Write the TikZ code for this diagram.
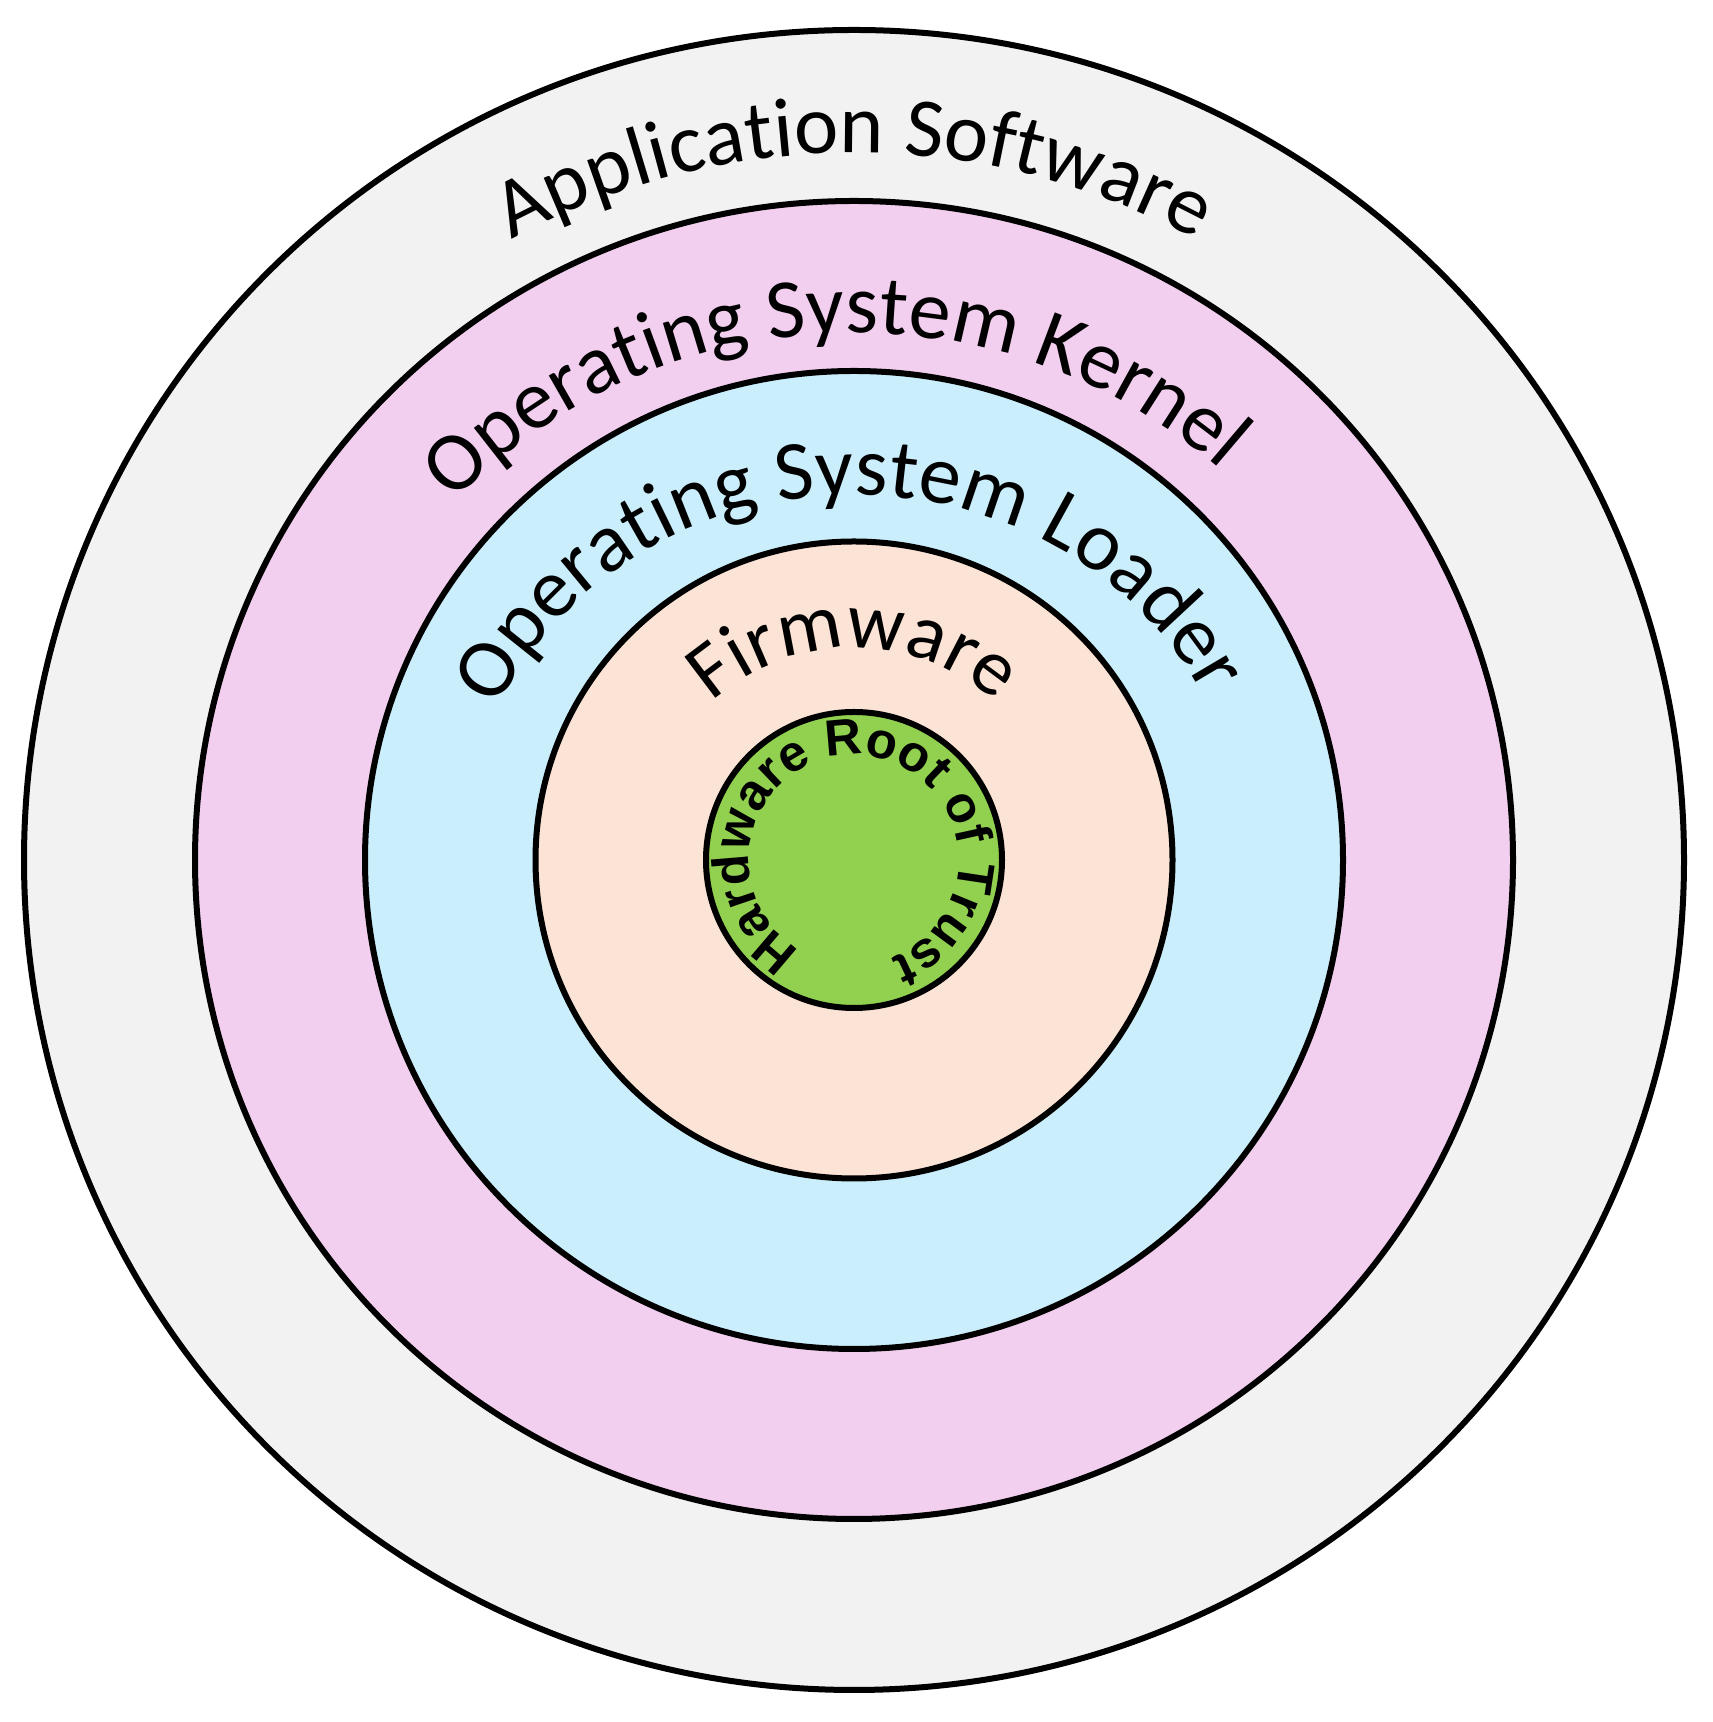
\documentclass[tikz,border=0pt]{standalone}
\usepackage{fontspec}
\usetikzlibrary{decorations.text,calc}
\newfontfamily\lblfamily{Carlito}
\newfontfamily\hrfamily{Liberation Sans}
\definecolor{appgray}{HTML}{F2F2F2}
\definecolor{kernpink}{HTML}{F2CEEF}
\definecolor{loadblue}{HTML}{CAEEFB}
\definecolor{firmpeach}{HTML}{FBE3D6}
\definecolor{rotgreen}{HTML}{92D050}
\newcommand\lbl{\lblfamily\fontsize{84}{84}\selectfont}
\newcommand\lblsmall{\lblfamily\fontsize{80}{80}\selectfont}
\newcommand\hrl{\hrfamily\bfseries\fontsize{51}{51}\selectfont}
% #1 x radius, #2 y radius, #3 start angle, #4 end angle, #5 format, #6 text
\newcommand\arclabel[6]{%
  \path[decorate, decoration={text along path, text align=center, text={|#5|#6}}]
    ($(c)+({#1*cos(#3)},{#2*sin(#3)})$) arc[start angle=#3, end angle=#4, x radius=#1, y radius=#2];}
\begin{document}
\begin{tikzpicture}[x=1pt, y=1pt,
  ring/.style={circle, draw=black, line width=6pt, inner sep=0pt}]
\useasboundingbox (0,0) rectangle (1713,1722);
\fill[white] (0,0) rectangle (1713,1722);
\coordinate (c) at (854,862);
\node[ring, fill=appgray,   minimum size=1660pt] (app)  at (c) {};
\node[ring, fill=kernpink,  minimum size=1318pt] (kern) at (c) {};
\node[ring, fill=loadblue,  minimum size=978pt]  (load) at (c) {};
\node[ring, fill=firmpeach, minimum size=637pt]  (firm) at (c) {};
\node[ring, fill=rotgreen,  minimum size=296pt]  (hrot) at (c) {};
\arclabel{712}{707}{180}{0}{\lbl}{Application Software}
\arclabel{545}{527}{182.5}{2.5}{\lbl}{Operating System Kernel}
\arclabel{392}{365}{181}{1}{\lbl}{Operating System Loader}
\arclabel{212}{212}{180}{0}{\lblsmall}{Firmware}
\arclabel{105}{105}{250}{-80}{\hrl}{Hardware Root of Trust}
\end{tikzpicture}
\end{document}
